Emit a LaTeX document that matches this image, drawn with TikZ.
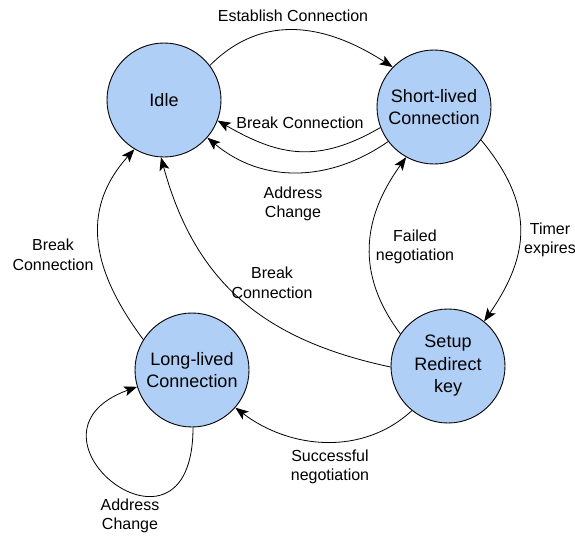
\documentclass[tikz,border=0pt]{standalone}
\usepackage{fontspec}
\setmainfont{Liberation Sans}
\usetikzlibrary{arrows.meta}
\definecolor{statefill}{RGB}{176,207,246}
\tikzset{
  state/.style={circle, draw=black, line width=0.9pt, fill=statefill, minimum size=114pt, inner sep=0pt,
    align=center, font=\fontsize{18}{22.5}\selectfont},
  lbl/.style={align=center, font=\fontsize{16}{19.5}\selectfont, inner sep=0pt},
  edge/.style={line width=0.8pt, -{Stealth[length=13pt,width=10pt,inset=3pt]}}
}
\begin{document}
\begin{tikzpicture}[x=1pt,y=-1pt]
\useasboundingbox (0,0) rectangle (575,535);
\node[state] (idle) at (164,100) {Idle};
\node[state] (short) at (434,107) {Short-lived\\Connection};
\node[state] (setup) at (448,366) {Setup\\Redirect\\key};
\node[state] (long) at (192,370) {Long-lived\\Connection};

\draw[edge] (idle.37) .. controls +(54,-54) and +(-65,-42) .. (short.136);
\draw[edge] (short.201) .. controls +(-62,36) and +(62,36) .. (idle.-21);
\draw[edge] (short.217) .. controls +(-59,41) and +(55,46) .. (idle.-41);
\draw[edge] (short.-35) .. controls +(53,64) and +(47,-68) .. (setup.51);
\draw[edge] (setup.146) .. controls +(-45,-60) and +(-44,61) .. (short.241);
\draw[edge] (setup.181) .. controls +(-127,-27) and +(34,125) .. (idle.267);
\draw[edge] (long.148) .. controls +(-50,-67) and +(-56,62) .. (idle.239);
\draw[edge] (setup.231) .. controls +(-50,46) and +(54,41) .. (long.-41);
\draw[edge] (long.-89) .. controls +(0,155) and +(-132,48) .. (long.197);

\node[lbl] (l1) at (293,16) {Establish Connection};
\node[lbl] (l2) at (300,123) {Break Connection};
\node[lbl] (l3) at (293,204) {Address\\Change};
\node[lbl] (l4) at (415,247) {Failed\\negotiation};
\node[lbl] (l5) at (550,240) {Timer\\expires};
\node[lbl] (l6) at (53,255) {Break\\Connection};
\node[lbl] (l7) at (272,283) {Break\\Connection};
\node[lbl] (l8) at (330,467) {Successful\\negotiation};
\node[lbl] (l9) at (130,516) {Address\\Change};
\end{tikzpicture}
\end{document}
